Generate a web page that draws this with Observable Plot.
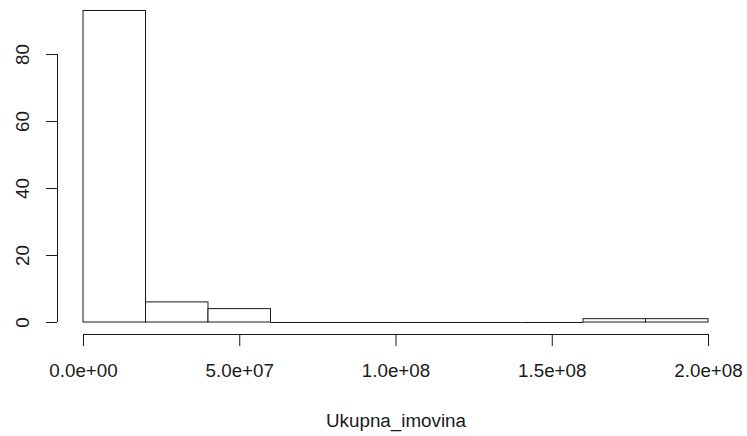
<!DOCTYPE html>
<html>
<head>
<meta charset="utf-8">
<script src="https://cdn.jsdelivr.net/npm/d3@7"></script>
<script src="https://cdn.jsdelivr.net/npm/@observablehq/plot@0.6"></script>
<style>
  html, body { margin: 0; padding: 0; background: #fff; }
  #chart svg { display: block; }
</style>
</head>
<body>
<div id="chart"></div>
<script>
// Histogram of total assets (Ukupna_imovina), bins of width 2e7
const breaks = [0, 2e7, 4e7, 6e7, 8e7, 1e8, 1.2e8, 1.4e8, 1.6e8, 1.8e8, 2e8];
const counts = [93, 6, 4, 0, 0, 0, 0, 0, 1, 1];
const xTicks = [0, 5e7, 1e8, 1.5e8, 2e8];
const xTickLabels = ["0.0e+00", "5.0e+07", "1.0e+08", "1.5e+08", "2.0e+08"];
const yTicks = [0, 20, 40, 60, 80];
const xTitle = "Ukupna_imovina";

const bins = counts.map((c, i) => ({x1: breaks[i], x2: breaks[i + 1], count: c}));
const ink = "#1a1a1a";
const font = "'Liberation Sans', Arial, sans-serif";
const fs = 18.8;

const chart = Plot.plot({
  width: 747,
  height: 436,
  marginLeft: 83,
  marginRight: 39,
  marginTop: 10.5,
  marginBottom: 114,
  style: {fontFamily: font, fontSize: fs + "px", background: "#fff", overflow: "visible"},
  x: {domain: [breaks[0], breaks[breaks.length - 1]], axis: null},
  y: {domain: [0, d3.max(counts)], axis: null},
  marks: [
    // bars
    Plot.rectY(bins.filter(d => d.count > 0), {
      x1: "x1", x2: "x2", y: "count",
      fill: "white", stroke: ink, strokeWidth: 1, inset: 0
    }),
    // empty bins drawn as flat segments on the baseline
    Plot.ruleY(bins.filter(d => d.count === 0), {
      x1: "x1", x2: "x2", y: 0, stroke: ink, strokeWidth: 1
    }),
    // x axis line and ticks, offset below the bars
    Plot.ruleY([0], {x1: xTicks[0], x2: xTicks[xTicks.length - 1], dy: 12, stroke: ink}),
    Plot.axisX(xTicks, {
      anchor: "bottom", tickSize: 12, dy: 12, tickPadding: 0, label: null,
      tickFormat: () => "", stroke: ink, color: ink
    }),
    Plot.text(xTicks, {
      x: d => d, frameAnchor: "bottom", dy: 48,
      text: (d, i) => xTickLabels[i], fill: ink, fontSize: fs, lineAnchor: "middle"
    }),
    // y axis line and ticks, offset left of the bars
    Plot.ruleX([0], {y1: yTicks[0], y2: yTicks[yTicks.length - 1], dx: -26, stroke: ink}),
    Plot.axisY(yTicks, {
      anchor: "left", tickSize: 11, dx: -26, tickPadding: 0, label: null,
      tickFormat: () => "", stroke: ink, color: ink
    }),
    Plot.text(yTicks, {
      y: d => d, frameAnchor: "left", dx: -61, rotate: -90,
      text: d => String(d), fill: ink, fontSize: fs, lineAnchor: "middle", textAnchor: "middle"
    }),
    // x axis title
    Plot.text([xTitle], {
      frameAnchor: "bottom", dy: 98, text: d => d, fill: ink, fontSize: fs, lineAnchor: "middle"
    })
  ]
});

document.getElementById("chart").appendChild(chart);
</script>
</body>
</html>
